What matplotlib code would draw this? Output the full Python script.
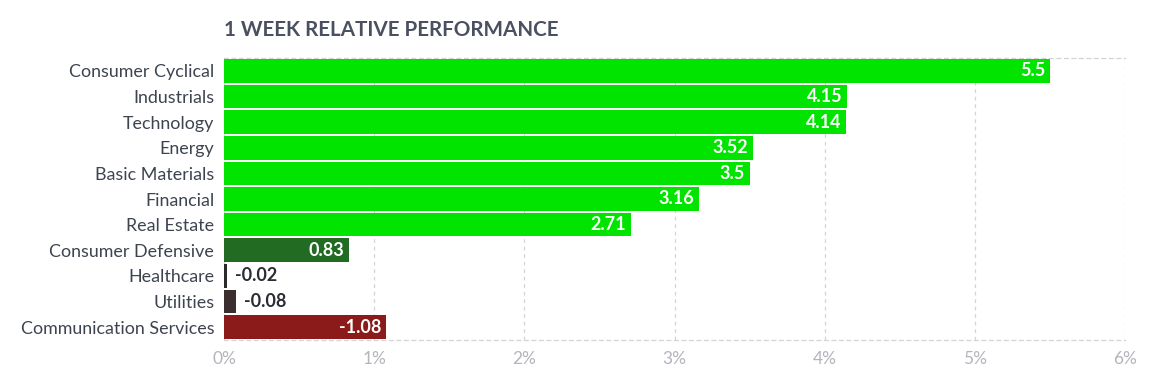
import matplotlib.pyplot as plt

sectores = ['Consumer Cyclical', 'Industrials', 'Technology', 'Energy', 'Basic Materials',
            'Financial', 'Real Estate', 'Consumer Defensive', 'Healthcare', 'Utilities',
            'Communication Services']
valores = [5.5, 4.15, 4.14, 3.52, 3.5, 3.16, 2.71, 0.83, -0.02, -0.08, -1.08]
etiquetas = ['5.5', '4.15', '4.14', '3.52', '3.5', '3.16', '2.71', '0.83', '-0.02', '-0.08', '-1.08']
colores = ['#00e400'] * 7 + ['#226b22', '#2b2b2b', '#3a2e2e', '#8b1a1a']
ticks = [0, 1, 2, 3, 4, 5, 6]

plt.rcParams['font.family'] = ['Lato', 'DejaVu Sans']

fig = plt.figure(figsize=(11.76, 3.78), dpi=100)
ax = fig.add_axes([224 / 1176, 1 - 340 / 378, (1125 - 224) / 1176, (340 - 58) / 378])

pos = list(range(len(sectores)))
largos = [abs(v) for v in valores]
ax.barh(pos, largos, height=0.92, color=colores, zorder=3)

for p, l, txt in zip(pos, largos, etiquetas):
    if l > 0.4:
        ax.text(l - 0.03, p, txt, ha='right', va='center', color='white',
                fontsize=13, fontweight='bold', zorder=4)
    else:
        ax.text(l + 0.05, p, txt, ha='left', va='center', color='#2b2b33',
                fontsize=13, fontweight='bold', zorder=4)

ax.set_xlim(0, 6)
ax.set_ylim(len(sectores) - 0.5, -0.5)
ax.set_yticks(pos)
ax.set_yticklabels(sectores, fontsize=12.9, color='#3d4450')
ax.set_xticks(ticks)
ax.set_xticklabels([f'{t}%' for t in ticks], fontsize=12.5, color='#b4b4bc')
ax.tick_params(length=0, pad=8)
ax.tick_params(axis='y', pad=7)

ax.grid(True, axis='x', color='#d4d4d8', linestyle=(0, (3, 3)), linewidth=0.9, zorder=0)
for lado in ['left', 'right']:
    ax.spines[lado].set_visible(False)
for lado in ['top', 'bottom']:
    ax.spines[lado].set_color('#d4d4d8')
    ax.spines[lado].set_linestyle((0, (3, 3)))
    ax.spines[lado].set_linewidth(0.9)

fig.text(224 / 1176, 1 - 30 / 378, '1 WEEK RELATIVE PERFORMANCE', fontsize=14.9,
         fontweight='bold', color='#4a5060', va='center', ha='left')

plt.savefig('out.png', dpi=100)
